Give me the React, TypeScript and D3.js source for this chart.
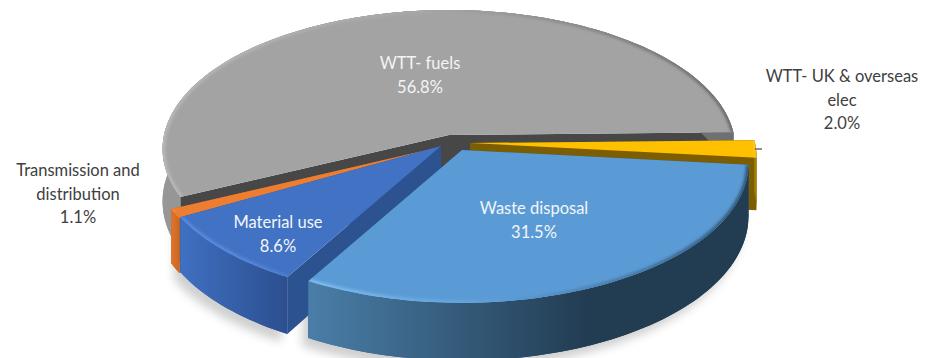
import React from "react";
import * as d3 from "d3";

const categories = ["WTT- fuels", "WTT- UK & overseas elec", "Waste disposal", "Material use", "Transmission and distribution"];
const shares = [56.8, 2.0, 31.5, 8.6, 1.1];
const percentLabels = ["56.8%", "2.0%", "31.5%", "8.6%", "1.1%"];

const W = 931;
const H = 358;
const RX = 285;
const RY = 137.5;
const DEPTH = 52;
const PERSPECTIVE = 0.1;
const deg = Math.PI / 180;

type Style = {
  apex: [number, number];
  top: string;
  cut: string;
  sideFrom: string;
  sideTo: string;
  bevelFrom: string;
  bevelMid: string;
  bevelTo: string;
};

// Per-slice explosion offset and palette, in the same order as `categories`.
const styles: Style[] = [
  { apex: [449, 135], top: "#a3a3a3", cut: "#474747", sideFrom: "#979797", sideTo: "#6f6f6f", bevelFrom: "#b9b9b9", bevelMid: "#a8a8a8", bevelTo: "#6a6a6a" },
  { apex: [470, 143], top: "#ffc000", cut: "#7c5d00", sideFrom: "#b08400", sideTo: "#a07800", bevelFrom: "#ffcf40", bevelMid: "#ffc000", bevelTo: "#e0a800" },
  { apex: [462, 150], top: "#5b9bd5", cut: "#2f5a80", sideFrom: "#4a7ea8", sideTo: "#223c52", bevelFrom: "#80c0f4", bevelMid: "#5b9bd5", bevelTo: "#2e5474" },
  { apex: [441, 146], top: "#4272c4", cut: "#2d5290", sideFrom: "#3f70c2", sideTo: "#2c4f8e", bevelFrom: "#5a8ce0", bevelMid: "#5a8ce0", bevelTo: "#4c7cd0" },
  { apex: [440, 147], top: "#ed7d31", cut: "#b85f20", sideFrom: "#e0752c", sideTo: "#c86824", bevelFrom: "#f49a5c", bevelMid: "#ed7d31", bevelTo: "#ed7d31" },
];

const arcs = d3
  .pie<number>()
  .sort(null)
  .startAngle(244.4 * deg)
  .endAngle(604.4 * deg)(shares);

// Perspective projection of a point on the tilted disc: a is a clock angle,
// r a fraction of the radius, z a fraction of the thickness.
function project(apex: [number, number], a: number, r: number, z: number): [number, number] {
  const u = Math.sin(a) * r;
  const v = -Math.cos(a) * r;
  const s = 1 / (1 - PERSPECTIVE * v);
  return [apex[0] + RX * u * s, apex[1] + RY * v * s + DEPTH * z * s];
}

const line = d3.line<[number, number]>();

function arcPoints(apex: [number, number], a0: number, a1: number, z: number, r = 1) {
  const steps = Math.max(2, Math.ceil(Math.abs(a1 - a0) / (1.5 * deg)));
  return d3.range(steps + 1).map((i) => project(apex, a0 + ((a1 - a0) * i) / steps, r, z));
}

function topPath(apex: [number, number], a0: number, a1: number) {
  return line([apex, ...arcPoints(apex, a0, a1, 0)]) + "Z";
}

function sidePath(apex: [number, number], a0: number, a1: number) {
  return line([...arcPoints(apex, a0, a1, 0), ...arcPoints(apex, a1, a0, 1)]) + "Z";
}

function cutPath(apex: [number, number], a: number) {
  const bottomApex: [number, number] = [apex[0], apex[1] + DEPTH];
  return line([apex, project(apex, a, 1, 0), project(apex, a, 1, 1), bottomApex]) + "Z";
}

const paintOrder = [0, 4, 3, 1, 2];

const labels = [
  { lines: ["WTT- fuels", percentLabels[0]], x: 420, y: 69, fill: "#f4f4f4" },
  { lines: ["WTT- UK & overseas", "elec", percentLabels[1]], x: 842, y: 82, fill: "#404040" },
  { lines: ["Waste disposal", percentLabels[2]], x: 534, y: 214, fill: "#f2f6fb" },
  { lines: ["Material use", percentLabels[3]], x: 278, y: 228, fill: "#f2f6fb" },
  { lines: ["Transmission and", "distribution", percentLabels[4]], x: 78, y: 176, fill: "#404040" },
];

export default function App() {
  return (
    <svg
      width={W}
      height={H}
      viewBox={`0 0 ${W} ${H}`}
      style={{ position: "absolute", left: 0, top: 0, background: "#fff" }}
      role="img"
      aria-label={categories.join(", ")}
    >
      <defs>
        <filter id="soft" x="-20%" y="-20%" width="140%" height="140%">
          <feGaussianBlur stdDeviation="1.6" />
        </filter>
        <filter id="shadow" x="-20%" y="-30%" width="140%" height="160%">
          <feGaussianBlur stdDeviation="5" />
        </filter>
        {arcs.map((d, i) => {
          const st = styles[i];
          const xs = arcPoints(st.apex, d.startAngle, d.endAngle, 0).map((p) => p[0]);
          const x0 = d3.min(xs) as number;
          const x1 = d3.max(xs) as number;
          return (
            <React.Fragment key={i}>
              <linearGradient id={`side${i}`} gradientUnits="userSpaceOnUse" x1={x0} x2={i === 2 ? x0 + 280 : x1} y1={0} y2={0}>
                <stop offset="0" stopColor={st.sideFrom} />
                <stop offset="1" stopColor={st.sideTo} />
              </linearGradient>
              <linearGradient id={`bevel${i}`} gradientUnits="userSpaceOnUse" x1={x0} x2={x1} y1={0} y2={0}>
                <stop offset="0" stopColor={st.bevelFrom} />
                <stop offset="0.45" stopColor={st.bevelMid} />
                <stop offset="1" stopColor={st.bevelTo} />
              </linearGradient>
              <clipPath id={`clip${i}`}>
                <path d={topPath(st.apex, d.startAngle, d.endAngle)} />
              </clipPath>
            </React.Fragment>
          );
        })}
      </defs>

      {/* soft ground shadow below the front slices */}
      <g filter="url(#shadow)" opacity={0.28} transform="translate(-6,8)">
        {[3, 2].map((i) => (
          <path key={i} d={sidePath(styles[i].apex, arcs[i].startAngle, arcs[i].endAngle)} fill="#555" />
        ))}
      </g>

      {paintOrder.map((i) => {
        const d = arcs[i];
        const st = styles[i];
        return (
          <g key={categories[i]}>
            <path d={sidePath(st.apex, d.startAngle, d.endAngle)} fill={`url(#side${i})`} />
            <path d={cutPath(st.apex, d.startAngle)} fill={st.cut} />
            <path d={cutPath(st.apex, d.endAngle)} fill={st.cut} />
            <path d={sidePath(st.apex, d.startAngle, d.endAngle)} fill={`url(#side${i})`} />
            <path d={topPath(st.apex, d.startAngle, d.endAngle)} fill={st.top} />
            <g clipPath={`url(#clip${i})`}>
              <path
                d={line(arcPoints(st.apex, d.startAngle, d.endAngle, 0)) as string}
                fill="none"
                stroke={`url(#bevel${i})`}
                strokeWidth={5}
                filter="url(#soft)"
              />
            </g>
          </g>
        );
      })}

      {/* leader tick beside the smallest outer label */}
      <line x1={755} x2={762} y1={149} y2={149} stroke="#222" strokeWidth={1} />

      {labels.map((l) => (
        <text
          key={l.lines[0]}
          x={l.x}
          y={l.y}
          textAnchor="middle"
          fontFamily="Lato, 'Open Sans', sans-serif"
          fontSize={16.5}
          fill={l.fill}
        >
          {l.lines.map((t, k) => (
            <tspan key={k} x={l.x} y={l.y + k * 23.5}>
              {t}
            </tspan>
          ))}
        </text>
      ))}
    </svg>
  );
}
